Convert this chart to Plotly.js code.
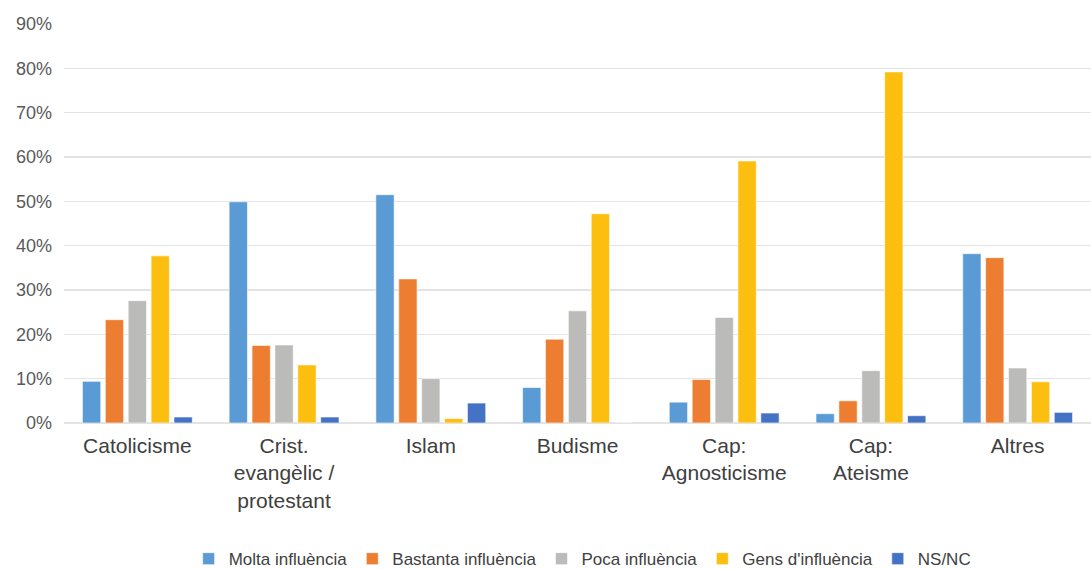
<!DOCTYPE html>
<html><head><meta charset="utf-8">
<script src="https://cdn.plot.ly/plotly-3.0.1.min.js"></script>
<style>html,body{margin:0;padding:0;background:#fff;}#chart{width:1091px;height:569px;}</style>
</head><body><div id="chart"></div>
<script>
const categories = ["Catolicisme", "Crist.<br>evangèlic /<br>protestant", "Islam", "Budisme", "Cap:<br>Agnosticisme", "Cap:<br>Ateisme", "Altres"];
const seriesNames = ["Molta influència", "Bastanta influència", "Poca influència", "Gens d'influència", "NS/NC"];
const molta    = [9.4, 49.9, 51.5, 8.0, 4.7, 2.1, 38.2];
const bastanta = [23.3, 17.5, 32.5, 18.9, 9.8, 5.0, 37.3];
const poca     = [27.6, 17.6, 10.0, 25.3, 23.8, 11.8, 12.4];
const gens     = [37.7, 13.1, 1.0, 47.2, 59.1, 79.2, 9.3];
const nsnc     = [1.35, 1.35, 4.5, 0, 2.25, 1.65, 2.4];
const colors = ["#5B9BD5", "#ED7D31", "#BBBBB9", "#FCBF0F", "#4472C4"];
const values = [molta, bastanta, poca, gens, nsnc];

const traces = values.map((v, i) => ({
  type: 'bar', x: categories, y: v, name: seriesNames[i],
  marker: {color: colors[i], line: {color: 'rgba(255,255,255,0.6)', width: 1}},
  hoverinfo: 'skip'
}));

const layout = {
  width: 1091, height: 569,
  margin: {l: 64, r: 0, t: 24, b: 146, autoexpand: false},
  paper_bgcolor: '#fff', plot_bgcolor: '#fff',
  barmode: 'group', bargap: 0.22, bargroupgap: 0.2,
  font: {family: 'Liberation Sans, Arial, sans-serif', color: '#404040'},
  xaxis: {
    tickfont: {size: 21, color: '#404040'}, showgrid: false, zeroline: false,
    showline: false, ticks: '', automargin: false, ticklabelstandoff: 8
  },
  yaxis: {
    range: [0, 90], dtick: 10, ticksuffix: '%',
    tickfont: {size: 18, color: '#595959'},
    showgrid: true, gridcolor: '#E3E3E3', gridwidth: 1.5,
    zeroline: true, zerolinecolor: '#E3E3E3', zerolinewidth: 1.5,
    showline: false, ticks: '', ticklen: 0, automargin: false, ticklabelstandoff: 11
  },
  legend: {
    orientation: 'h', x: 0.505, xanchor: 'center', y: -0.296, yanchor: 'top',
    font: {size: 17, color: '#404040'}, traceorder: 'normal',
    itemwidth: 30
  },
  showlegend: true
};
Plotly.newPlot('chart', traces, layout, {displayModeBar: false, staticPlot: true});
</script></body></html>
